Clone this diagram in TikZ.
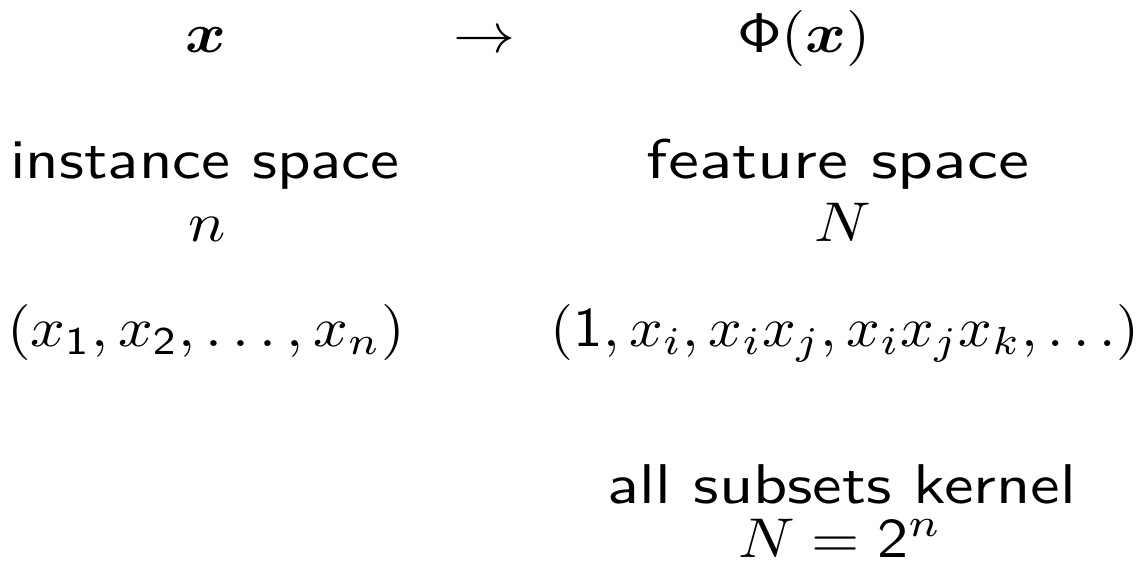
\RequirePackage{fix-cm}
\documentclass[tikz,border=0pt]{standalone}
\usepackage{bm}
\tikzset{
  lbl/.style={anchor=base, inner sep=0pt, outer sep=0pt, font=\sffamily, yscale=2.8},
  txt/.style={lbl, xscale=3.25},
  mth/.style={lbl, xscale=3.1}
}
\begin{document}
\begin{tikzpicture}[x=0.5pt, y=-0.5pt]
\useasboundingbox (0,0) rectangle (1140,563);
% row 1
\node[mth] (xin)  at (206,52) {$\bm{x}$};
\node[mth] (arr)  at (484,52) {$\to$};
\node[mth] (phix) at (804,52) {$\mathsf{\Phi}(\bm{x})$};
% row 2
\node[txt] (inst) at (205,178) {instance space};
\node[txt, xscale=1.07] (feat) at (838,178) {feature space};
% row 3
\node[mth] (dimn) at (207,241) {$n$};
\node[mth] (dimN) at (843,241) {$N$};
% row 4
\node[mth, xscale=0.98] (vecx) at (206,346) {$(x_{\mathsf{1}},x_{\mathsf{2}},\ldots,x_n)$};
\node[mth, xscale=0.95] (vecf) at (845,346) {$(\mathsf{1},x_i,x_ix_j,x_ix_jx_k,\ldots)$};
% row 5
\node[txt, xscale=1.02] (kern) at (842,503) {all subsets kernel};
\node[mth] (eqN)  at (840,557) {$N=\mathsf{2}^n$};
\end{tikzpicture}
\end{document}
